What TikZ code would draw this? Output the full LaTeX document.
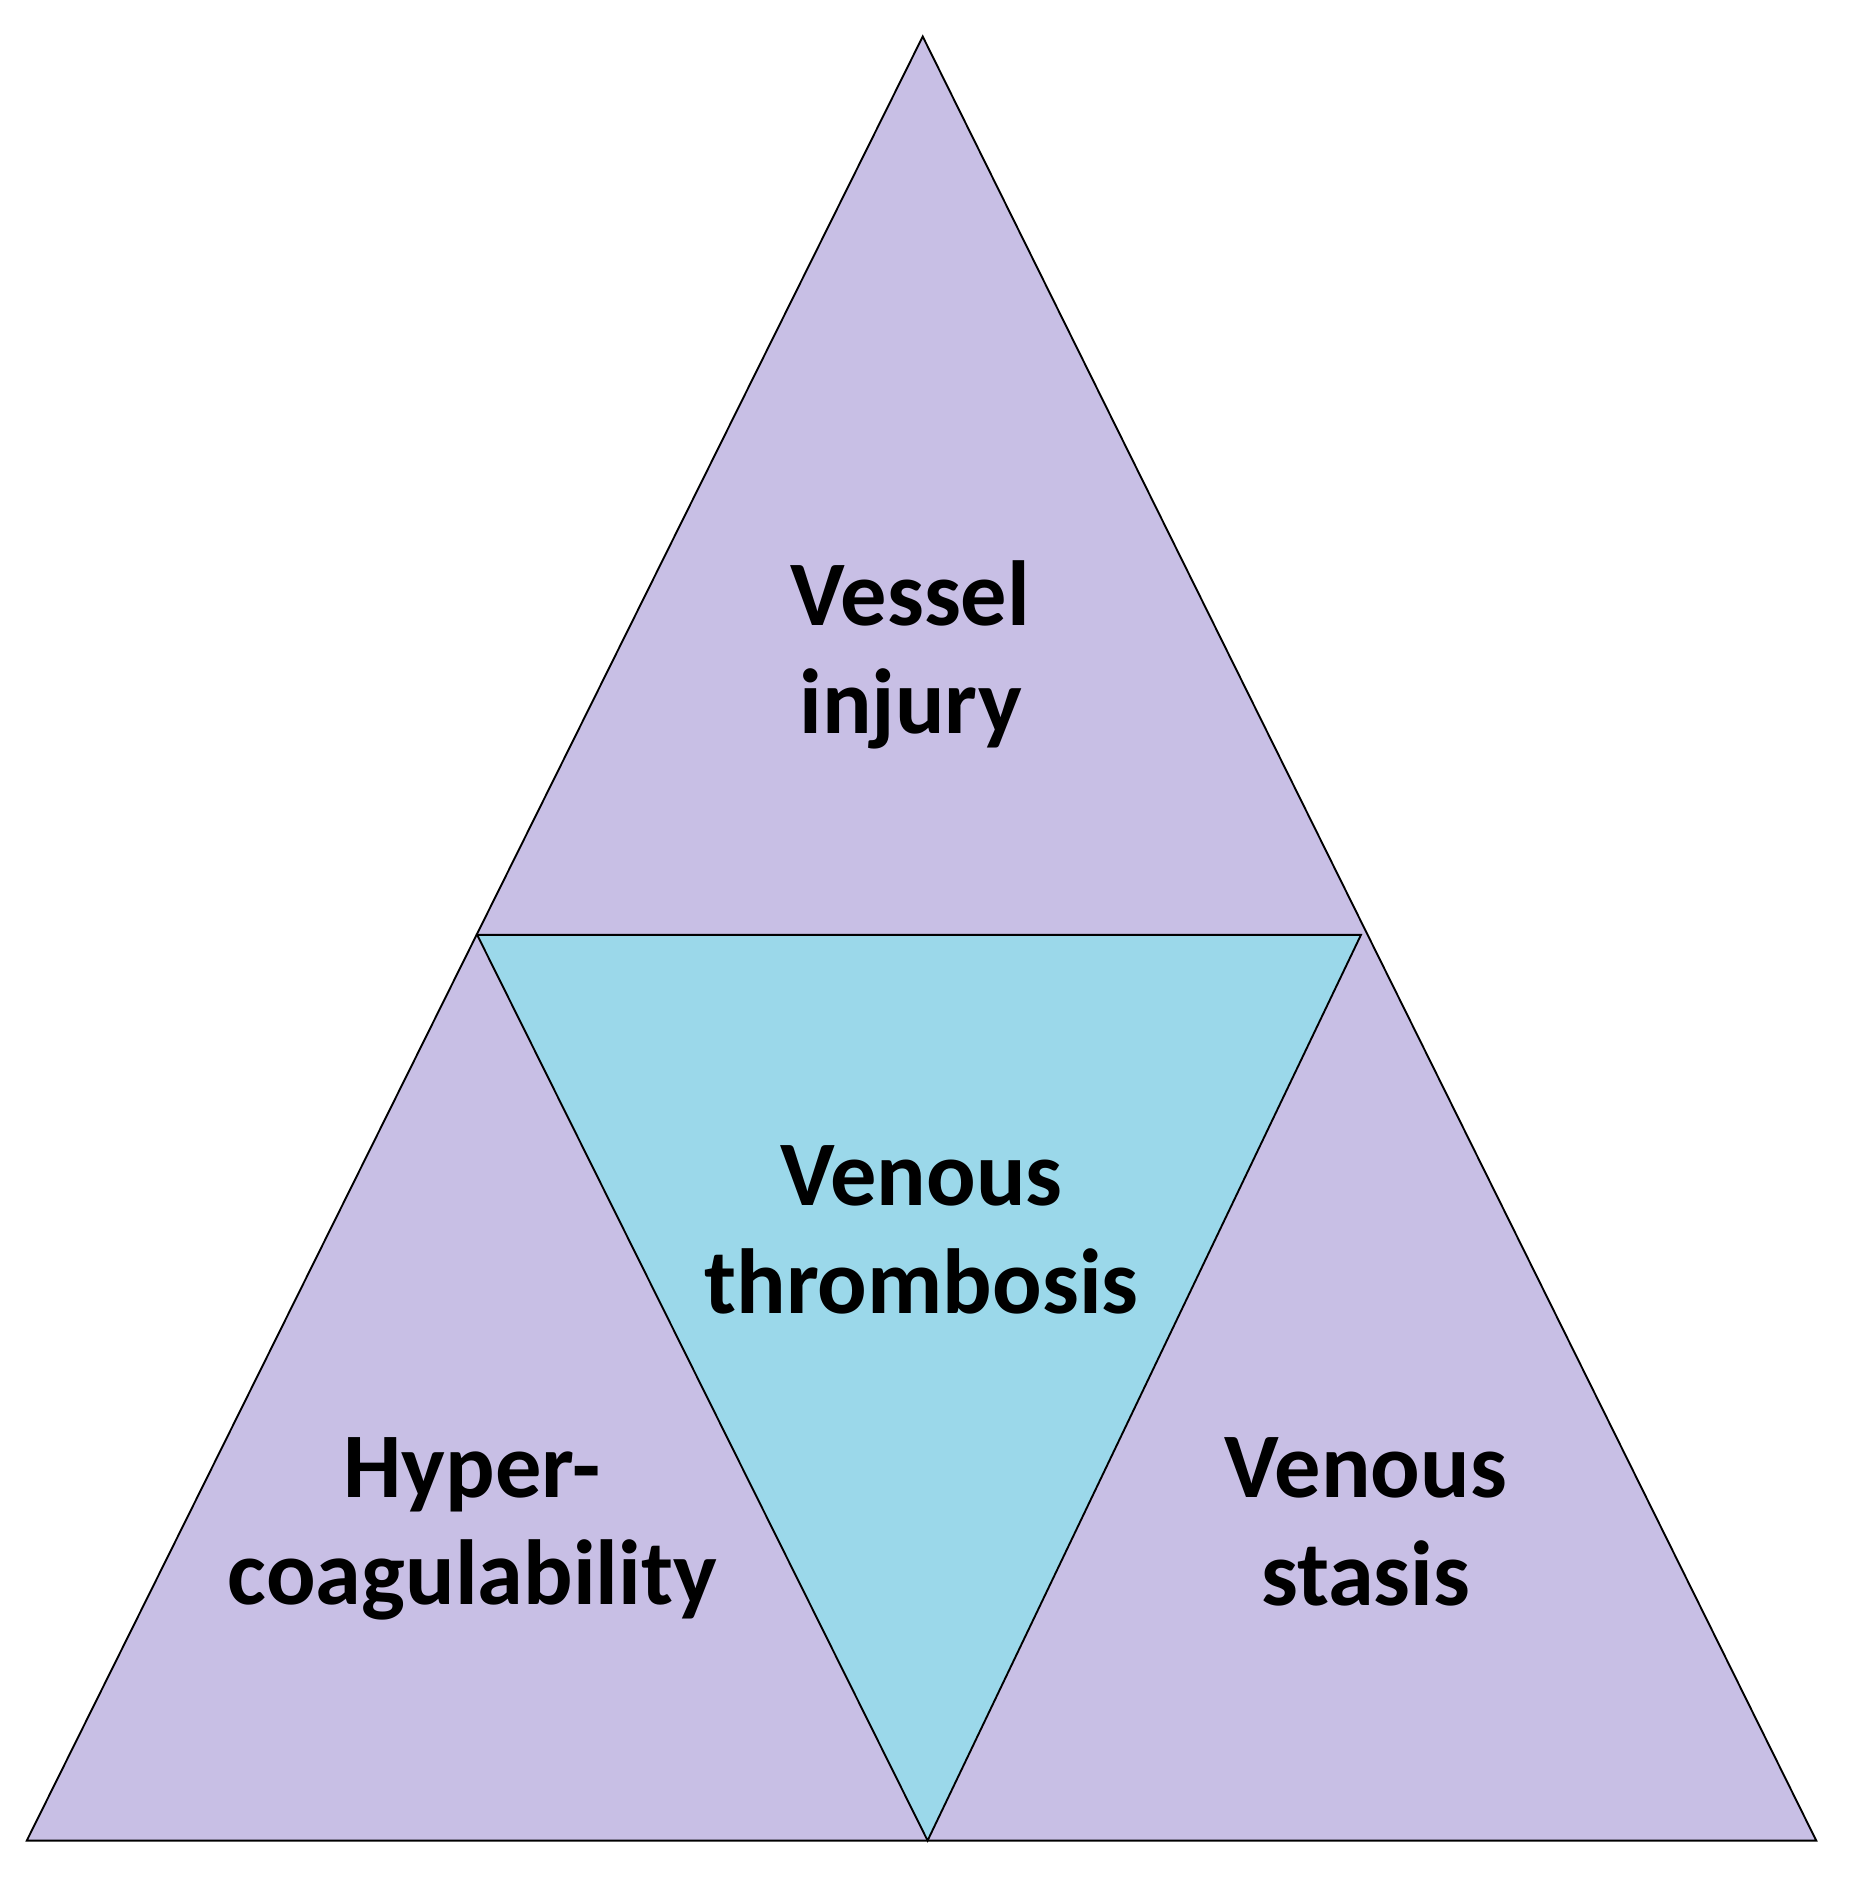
\documentclass[tikz,border=0pt]{standalone}
\usepackage{fontspec}
\setmainfont{Carlito}
\definecolor{lav}{HTML}{C8BFE5}
\definecolor{cyanf}{HTML}{9BD8EA}
\begin{document}
\begin{tikzpicture}[x=0.05cm,y=-0.05cm,
  tri/.style={draw=black,line width=2.2pt,line join=miter},
  lbl/.style={font=\bfseries\fontsize{108}{126}\selectfont,align=center,text=black}]
\useasboundingbox (0,0) rectangle (1520,1560);
\coordinate (A) at (758,30);
\coordinate (L) at (392,768);
\coordinate (R) at (1118,768);
\coordinate (BL) at (22,1512);
\coordinate (BM) at (762,1512);
\coordinate (BR) at (1492,1512);
\fill[lav] (A) -- (BL) -- (BR) -- cycle;
\fill[cyanf] (L) -- (R) -- (BM) -- cycle;
\draw[tri] (A) -- (BL) -- (BR) -- cycle;
\draw[tri] (L) -- (R) -- (BM) -- cycle;
\node[lbl] (v) at (748,538) {Vessel\\injury};
\node[lbl] (t) at (757,1010) {Venous\\thrombosis};
\node[lbl] (h) at (388,1256) {Hyper-\\coagulability};
\node[lbl] (s) at (1122,1250) {Venous\\stasis};
\end{tikzpicture}
\end{document}
